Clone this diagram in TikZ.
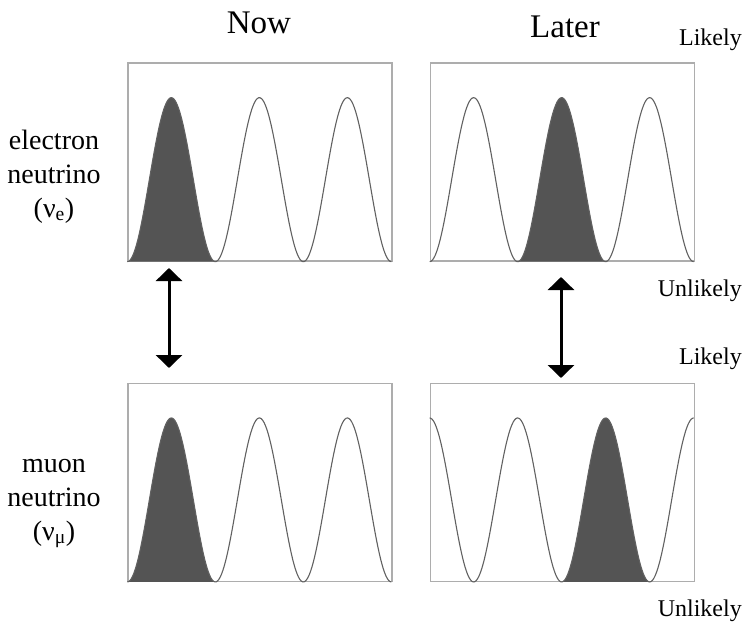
\documentclass[tikz,border=0pt]{standalone}
\usepackage{fontspec}
\setmainfont{Liberation Serif}
\usetikzlibrary{positioning,arrows.meta}
\begin{document}
\begin{tikzpicture}[x=1pt, y=-1pt, node distance=34pt,
  panel/.style={draw=black!32, line width=1.3pt, minimum width=264pt, minimum height=198pt, inner sep=0pt},
  wave/.style={draw=black!62, line width=1.1pt},
  peakfill/.style={fill=black!67},
  swap/.style={{Triangle[width=26pt,length=13pt]}-{Triangle[width=26pt,length=13pt]}, line width=3pt},
  head/.style={font=\fontsize{33}{38}\selectfont, anchor=base},
  side/.style={font=\fontsize{24}{28}\selectfont, anchor=base east, inner sep=0pt},
  kind/.style={font=\fontsize{28}{32}\selectfont, text height=19pt, text depth=6pt, inner sep=0pt}]
\useasboundingbox (0,0) rectangle (748,624);

\node[panel] (nowe) at (260,162) {};
\node[panel, right=37pt of nowe] (late) {};
\node[panel, below=121pt of nowe] (nowm) {};
\node[panel, below=121pt of late] (latm) {};

\foreach \n/\ph/\fa/\fb in {nowe/0/0/88, late/0/88/176, nowm/0/0/88, latm/180/132/220} {
  \begin{scope}[shift={(\n.south west)}]
    \fill[peakfill] plot[domain=\fa:\fb, samples=70, smooth] ({\x},{-82*(1-cos(360/88*\x+\ph))}) -- cycle;
    \draw[wave] plot[domain=0:264, samples=200, smooth] ({\x},{-82*(1-cos(360/88*\x+\ph))});
  \end{scope}
}

\node[head] (now) at (259,33) {Now};
\node[head] (later) at (565,37) {Later};

\node[side] (hie) at (742,45) {Likely};
\node[side] (loe) at (742,296) {Unlikely};
\node[side] (him) at (742,364) {Likely};
\node[side] (lom) at (742,616) {Unlikely};

\node[kind] (elec) at (54,142.5) {electron};
\node[kind] (eneu) [below of=elec] {neutrino};
\node[kind] (esym) [below of=eneu] {(ν\textsubscript{e})};
\node[kind] (muon) at (54,465.5) {muon};
\node[kind] (mneu) [below of=muon] {neutrino};
\node[kind] (msym) [below of=mneu] {(ν\textsubscript{μ})};

\coordinate (nowtop) at (169,268);
\coordinate (nowbot) at (169,368);
\coordinate (latetop) at (561,277);
\coordinate (latebot) at (561,378);
\draw[swap] (nowtop) -- (nowbot);
\draw[swap] (latetop) -- (latebot);
\end{tikzpicture}
\end{document}
